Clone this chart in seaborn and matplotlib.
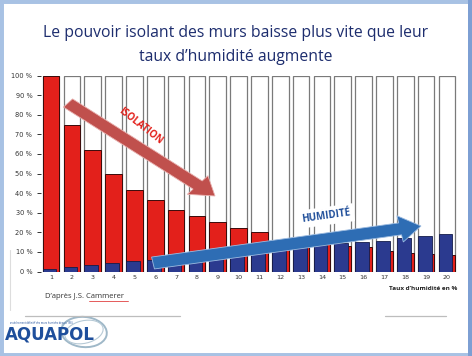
import numpy as np
import pandas as pd
import seaborn as sns
import matplotlib.pyplot as plt
from matplotlib.patches import FancyArrow, Rectangle, Ellipse
from matplotlib.lines import Line2D

# data
taux = [str(i) for i in range(1, 21)]
isolation = [100, 75, 62, 50, 41.5, 36.5, 31.5, 28.5, 25.5, 22,
             20, 15.5, 13.6, 14.2, 13, 12.6, 10.4, 9.5, 8.7, 8.3]
humidite = [1.5, 2.5, 3.2, 4.4, 5.4, 6.1, 7, 7.4, 8.4, 9.9,
            10.7, 11.6, 12.8, 13.6, 14.5, 15.3, 15.8, 17, 18, 18.9]
fond = [100] * 20
yticks = [0, 10, 20, 30, 40, 50, 60, 70, 80, 90, 100]

W, H = 472, 356

def fx(x):
    return x / W

def fy(y):
    return 1 - y / H

sns.set_style("white")
plt.rcParams['font.family'] = ['Open Sans', 'DejaVu Sans']

fig = plt.figure(figsize=(W / 100, H / 100), dpi=100)
fig.patch.set_facecolor('white')

# slide frame
fig.add_artist(Rectangle((0, 0), 1, 1, transform=fig.transFigure, fill=False,
                         edgecolor='#a8c2e4', linewidth=5))
fig.add_artist(Rectangle((fx(468), 0), fx(4), 1, transform=fig.transFigure,
                         facecolor='#7d9fd3', edgecolor='none'))
fig.add_artist(Line2D([fx(10), fx(10)], [fy(250), fy(310)], transform=fig.transFigure,
                      color='#dddddd', lw=0.8))

ax = fig.add_axes([fx(40.6), fy(271.5), fx(416.8), 196 / H])
df = pd.DataFrame({'taux': taux, 'isolation': isolation,
                   'humidite': humidite, 'fond': fond})

sns.barplot(data=df, x='taux', y='fond', color='white', edgecolor='#7a7a7a',
            linewidth=0.9, width=0.8, saturation=1, ax=ax)
n0 = len(ax.patches)
sns.barplot(data=df, x='taux', y='isolation', color='#e3201b', edgecolor='#3a0a0a',
            linewidth=0.7, width=0.8, saturation=1, ax=ax)
n1 = len(ax.patches)
sns.barplot(data=df, x='taux', y='humidite', color='#2b3a8f', edgecolor='#141c4a',
            linewidth=0.6, width=0.66, saturation=1, ax=ax)
# blue bars sit on the left part of each slot, in front of the red ones
for p in ax.patches[n1:]:
    p.set_x(p.get_x() - 0.07)
    p.set_zorder(3)

ax.set_xlim(-0.5, 19.5)
ax.set_ylim(0, 100)
ax.set_yticks(yticks)
ax.set_yticklabels([f"{v} %" for v in yticks], fontsize=4.8, color='#333333',
                   family=['DejaVu Sans'])
ax.tick_params(axis='y', length=3, width=0.7, color='#333333', pad=3, left=True)
ax.tick_params(axis='x', length=0, pad=2.5, labelsize=4.6, labelcolor='#333333')
for t in ax.get_xticklabels():
    t.set_family(['DejaVu Sans'])
ax.set_xlabel('')
ax.set_ylabel('')
for s in ax.spines.values():
    s.set_visible(False)
ax.patch.set_alpha(0)

# arrows
fig.add_artist(FancyArrow(fx(68), fy(103), fx(147), fy(196) - fy(103),
                          width=0.03, head_width=0.068, head_length=0.048,
                          length_includes_head=True, transform=fig.transFigure,
                          facecolor='#c0504d', edgecolor='#e8b0ae', lw=0.6, zorder=5))
fig.text(fx(140), fy(126), 'ISOLATION', rotation=-38, color='#e3201b',
         fontsize=7, fontweight='bold', ha='center', va='center', zorder=6)

fig.text(fx(326), fy(216), 'HUMIDITÉ', rotation=8, color='#1f4e9a',
         fontsize=7, fontweight='bold', ha='center', va='center', zorder=6,
         bbox=dict(facecolor='white', edgecolor='none', pad=2.5))
fig.add_artist(FancyArrow(fx(153), fy(263), fx(268), fy(226) - fy(263),
                          width=0.034, head_width=0.075, head_length=0.045,
                          length_includes_head=True, transform=fig.transFigure,
                          facecolor='#2e6db4', edgecolor='#9cbbe0', lw=0.6, zorder=5))

# title
fig.text(fx(236), fy(33), 'Le pouvoir isolant des murs baisse plus vite que leur',
         ha='center', va='center', fontsize=11.3, color='#1d2d6e')
fig.text(fx(236), fy(57), 'taux d\u2019humidité augmente',
         ha='center', va='center', fontsize=11.3, color='#1d2d6e')

# footnotes
fig.text(fx(45), fy(296), 'D\u2019après J.S. Cammerer', ha='left', va='center',
         fontsize=5.5, color='#333333')
fig.add_artist(Line2D([fx(89), fx(128)], [fy(301), fy(301)], transform=fig.transFigure,
                      color='#e04040', lw=0.6))
fig.text(fx(457), fy(289), 'Taux d\u2019humidité en %', ha='right', va='center',
         fontsize=4.6, fontweight='bold', color='#222222')

for x0, x1 in [(25, 180), (385, 446)]:
    fig.add_artist(Line2D([fx(x0), fx(x1)], [fy(316), fy(316)], transform=fig.transFigure,
                          color='#bdbdbd', lw=0.9))

# logo
fig.add_artist(Ellipse((fx(84), fy(332)), fx(46), 30 / H, angle=-15, fill=False,
                       edgecolor='#9fb8c8', lw=1.4, transform=fig.transFigure))
fig.add_artist(Ellipse((fx(84), fy(332)), fx(40), 22 / H, angle=25, fill=False,
                       edgecolor='#b7cad6', lw=0.8, transform=fig.transFigure))
fig.text(fx(5), fy(335), 'AQUAPOL', ha='left', va='center', fontsize=12,
         fontweight='bold', color='#1f4f9c', family=['DejaVu Sans'])
fig.text(fx(10), fy(323), 'assèchement définitif des murs humides depuis 1985',
         ha='left', va='center', fontsize=1.8, color='#1f4f9c')

fig.savefig('out.png', dpi=100, facecolor='white')
